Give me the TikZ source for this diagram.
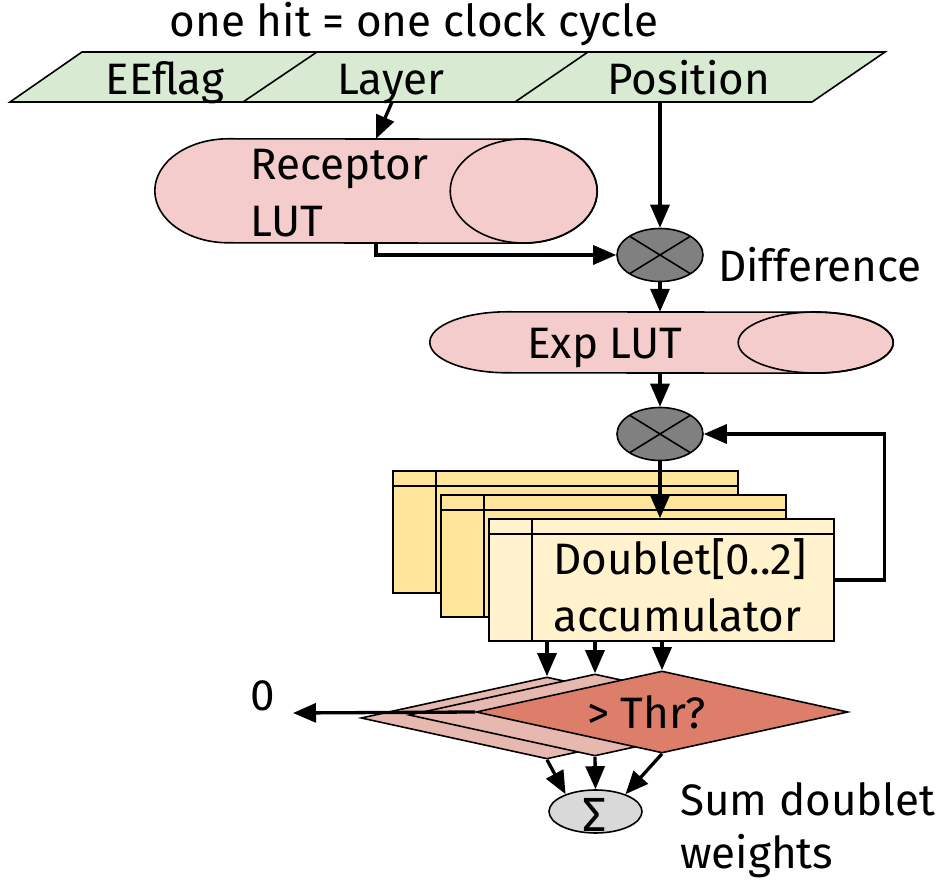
\documentclass[tikz,border=0pt]{standalone}
\usepackage{fontspec}
\setmainfont{Fira Sans}
\usepackage{tikz}
\usetikzlibrary{shapes.geometric,arrows.meta,calc}
\definecolor{bandgreen}{HTML}{D9EAD3}
\definecolor{lutpink}{HTML}{F4CCCC}
\definecolor{multgray}{HTML}{808080}
\definecolor{sumgray}{HTML}{D9D9D9}
\definecolor{accgold}{HTML}{FFE599}
\definecolor{acccream}{HTML}{FFF2CC}
\definecolor{thrred}{HTML}{DD7E6B}
\definecolor{thrpale}{HTML}{E6B8AF}
\newcommand{\bigfont}{\fontsize{44pt}{57pt}\selectfont}
% lying cylinder on a named box: node, end x radius, end y radius
\newcommand{\lutdraw}[3]{\draw[edge,fill=lutpink] ([xshift=#2pt]#1.north west) arc[start angle=90,end angle=270,x radius=#2pt,y radius=#3pt] -- ([xshift=-#2pt]#1.south east) arc[start angle=-90,end angle=90,x radius=#2pt,y radius=#3pt] -- cycle; \draw[edge] ([xshift=-#2pt]#1.east) ellipse[x radius=#2pt,y radius=#3pt];}

\begin{document}
\begin{tikzpicture}[x=1pt,y=1pt,
  every node/.style={font=\bigfont,inner sep=0pt},
  arr/.style={-{Triangle[length=23pt,width=19pt]},line width=3.3pt},
  edge/.style={draw,line width=1.6pt},
  mult/.style={ellipse,edge,fill=multgray,minimum width=86pt,minimum height=53pt,
    path picture={\draw[line width=1.6pt] (path picture bounding box.north west)--(path picture bounding box.south east)
      (path picture bounding box.north east)--(path picture bounding box.south west);}},
  acc/.style={rectangle,edge,minimum width=345pt,minimum height=122pt,
    path picture={\draw[line width=1.6pt] ([yshift=-15pt]path picture bounding box.north west)--([yshift=-15pt]path picture bounding box.north east)
      ([xshift=43pt]path picture bounding box.north west)--([xshift=43pt]path picture bounding box.south west);}},
  thr/.style={diamond,edge,minimum width=372pt,minimum height=82pt}]
\useasboundingbox (0,0) rectangle (942,881);

% hit word
\node[anchor=base] (title) at (414,844) {one hit = one clock cycle};
\draw[edge,fill=bandgreen] (10,779) -- (82,829) -- (885,829) -- (812,779) -- cycle;
\draw[edge] (243,779) -- (317,829) (515,779) -- (588,829);
\node[anchor=base] (eef) at (165,786) {EEflag};
\node[anchor=base] (lay) at (391,786) {Layer};
\node[anchor=base] (pos) at (689,786) {Position};
\coordinate (layout) at (392,779);
\coordinate (posout) at (660,779);

% lookup tables and multipliers
\node[minimum width=442pt,minimum height=104pt] (rec) at (376,690) {};
\lutdraw{rec}{73.5}{52}
\node[anchor=base west,align=left] (rectxt) at (250,644) {Receptor\\LUT};
\node[mult] (diff) at (660,626) {};
\node[anchor=base west] (difftxt) at (718,599) {Difference};
\node[minimum width=463pt,minimum height=61pt] (explut) at (661.5,538.5) {};
\lutdraw{explut}{77.5}{30.5}
\node[anchor=base west] (exptxt) at (527,522) {Exp LUT};
\node[mult] (mul) at (660,447) {};

\draw[arr] (layout) -- (rec.north);
\draw[arr] (posout) -- (diff.north);
\draw[arr] (rec.south) |- (diff.west);
\draw[arr] (diff.south) -- (diff.south |- explut.north);
\draw[arr] (explut.south -| mul.north) -- (mul.north);

% accumulators, back to front
\foreach \i/\fc in {2/accgold,1/accgold,0/acccream}{
  \node[acc,fill=\fc] (acc\i) at ({661.5-48*\i},{301+24*\i}) {};
}
\node[anchor=base west,align=left] (acctxt) at (553,249) {Doublet[0..2]\\accumulator};
\draw[arr] (mul.south) -- (mul.south |- acc0.north);
\draw[arr] (acc0.east) -- ++(50pt,0pt) |- (mul.east);

% threshold tests
\foreach \i/\cx/\cy/\fc in {2/547/163/thrpale,1/595/166/thrpale,0/662/169/thrred}{
  \node[thr,fill=\fc] (thr\i) at (\cx,\cy) {};
  \draw[arr] (thr\i.north |- acc0.south) -- (thr\i.north);
}
\node[anchor=base west] (thrtxt) at (587,153) {> Thr?};
\node[anchor=base] (zero) at (262.5,171) {0};
\coordinate (zeroend) at (293,168);
\draw[arr] (thr0.west) -- (zeroend);

% doublet weight sum
\node[ellipse,edge,fill=sumgray,minimum width=93pt,minimum height=43pt] (sum) at (595.5,69.5) {};
\node[font=\fontsize{48pt}{48pt}\selectfont] (sigma) at (595,66) {Σ};
\node[anchor=base west,align=left,font=\fontsize{44pt}{53pt}\selectfont] (sumtxt) at (680,13) {Sum doublet\\weights};
\draw[arr] (thr2.south) -- (sum.150);
\draw[arr] (thr1.south) -- (sum.north);
\draw[arr] (thr0.south) -- (sum.30);
\end{tikzpicture}
\end{document}
